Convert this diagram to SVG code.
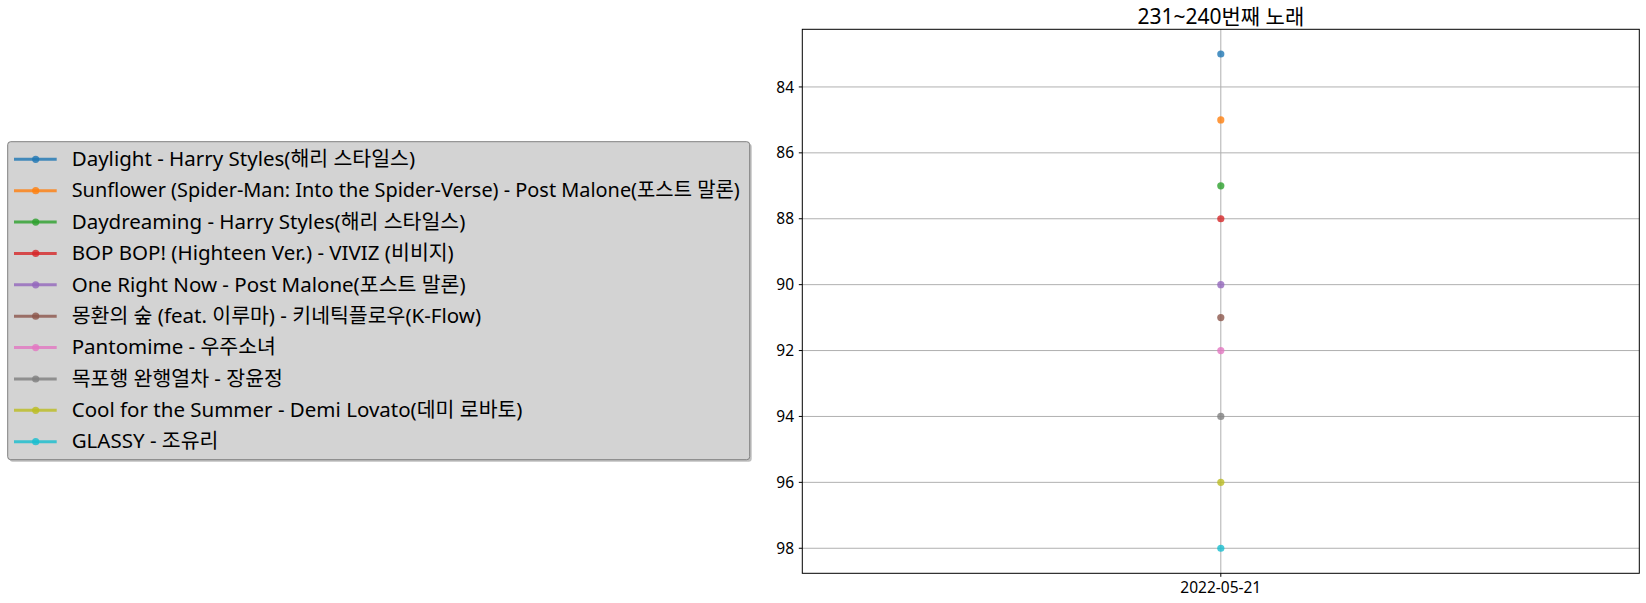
<svg xmlns="http://www.w3.org/2000/svg" width="1646" height="603" viewBox="0 0 1646 603">
<style>
text{font-family:"Noto Sans","Noto Sans CJK KR",sans-serif;fill:#000}
.tick{font-size:15.5px}
.leg{font-size:20.5px}
.grid{stroke:#b0b0b0;stroke-width:1}
.spine{stroke:#000;stroke-width:1;fill:none}
.hl{stroke-width:3;opacity:0.8}
.mk{opacity:0.8}
</style>
<rect width="1646" height="603" fill="#fff"/>
<g id="axes">
<g id="grid">
<line class="grid" x1="802.3" y1="86.95" x2="1639.3" y2="86.95"/>
<line class="grid" x1="802.3" y1="152.85" x2="1639.3" y2="152.85"/>
<line class="grid" x1="802.3" y1="218.75" x2="1639.3" y2="218.75"/>
<line class="grid" x1="802.3" y1="284.65" x2="1639.3" y2="284.65"/>
<line class="grid" x1="802.3" y1="350.55" x2="1639.3" y2="350.55"/>
<line class="grid" x1="802.3" y1="416.45" x2="1639.3" y2="416.45"/>
<line class="grid" x1="802.3" y1="482.35" x2="1639.3" y2="482.35"/>
<line class="grid" x1="802.3" y1="548.25" x2="1639.3" y2="548.25"/>
<line class="grid" x1="1220.8" y1="29.3" x2="1220.8" y2="573.3"/>
</g>
<g id="ticks" stroke="#000" stroke-width="1">
<line x1="798.8" y1="86.95" x2="802.3" y2="86.95"/>
<line x1="798.8" y1="152.85" x2="802.3" y2="152.85"/>
<line x1="798.8" y1="218.75" x2="802.3" y2="218.75"/>
<line x1="798.8" y1="284.65" x2="802.3" y2="284.65"/>
<line x1="798.8" y1="350.55" x2="802.3" y2="350.55"/>
<line x1="798.8" y1="416.45" x2="802.3" y2="416.45"/>
<line x1="798.8" y1="482.35" x2="802.3" y2="482.35"/>
<line x1="798.8" y1="548.25" x2="802.3" y2="548.25"/>
<line x1="1220.8" y1="573.3" x2="1220.8" y2="576.8"/>
</g>
<g id="yticklabels" class="tick" text-anchor="end">
<text x="794" y="92.5">84</text>
<text x="794" y="158.4">86</text>
<text x="794" y="224.3">88</text>
<text x="794" y="290.2">90</text>
<text x="794" y="356.1">92</text>
<text x="794" y="422">94</text>
<text x="794" y="487.9">96</text>
<text x="794" y="553.8">98</text>
</g>
<text class="tick" x="1220.8" y="592.5" text-anchor="middle">2022-05-21</text>
<text x="1220.8" y="24" text-anchor="middle" font-size="21">231~240번째 노래</text>
<g id="series">
<circle class="mk" cx="1220.8" cy="54" r="3.6" fill="#1f77b4"/>
<circle class="mk" cx="1220.8" cy="119.9" r="3.6" fill="#ff7f0e"/>
<circle class="mk" cx="1220.8" cy="185.8" r="3.6" fill="#2ca02c"/>
<circle class="mk" cx="1220.8" cy="218.75" r="3.6" fill="#d62728"/>
<circle class="mk" cx="1220.8" cy="284.65" r="3.6" fill="#9467bd"/>
<circle class="mk" cx="1220.8" cy="317.6" r="3.6" fill="#8c564b"/>
<circle class="mk" cx="1220.8" cy="350.55" r="3.6" fill="#e377c2"/>
<circle class="mk" cx="1220.8" cy="416.45" r="3.6" fill="#7f7f7f"/>
<circle class="mk" cx="1220.8" cy="482.35" r="3.6" fill="#bcbd22"/>
<circle class="mk" cx="1220.8" cy="548.25" r="3.6" fill="#17becf"/>
</g>
<rect class="spine" x="802.3" y="29.3" width="837" height="544"/>
</g>
<g id="legend">
<rect x="9.7" y="143.7" width="742" height="318" rx="3" fill="#808080" opacity="0.5"/>
<rect x="7.7" y="141.7" width="742" height="318" rx="3" fill="#d3d3d3" stroke="#808080" stroke-width="1"/>
<g id="leg1"><line class="hl" x1="14" y1="159.3" x2="56.7" y2="159.3" stroke="#1f77b4"/><circle class="mk" cx="35.7" cy="159.3" r="3.6" fill="#1f77b4"/><text class="leg" x="71.7" y="166">Daylight - Harry Styles(해리 스타일스)</text></g>
<g id="leg2"><line class="hl" x1="14" y1="190.7" x2="56.7" y2="190.7" stroke="#ff7f0e"/><circle class="mk" cx="35.7" cy="190.7" r="3.6" fill="#ff7f0e"/><text class="leg" x="71.7" y="197.4" textLength="668" lengthAdjust="spacingAndGlyphs">Sunflower (Spider-Man: Into the Spider-Verse) - Post Malone(포스트 말론)</text></g>
<g id="leg3"><line class="hl" x1="14" y1="222.1" x2="56.7" y2="222.1" stroke="#2ca02c"/><circle class="mk" cx="35.7" cy="222.1" r="3.6" fill="#2ca02c"/><text class="leg" x="71.7" y="228.8">Daydreaming - Harry Styles(해리 스타일스)</text></g>
<g id="leg4"><line class="hl" x1="14" y1="253.4" x2="56.7" y2="253.4" stroke="#d62728"/><circle class="mk" cx="35.7" cy="253.4" r="3.6" fill="#d62728"/><text class="leg" x="71.7" y="260.1">BOP BOP! (Highteen Ver.) - VIVIZ (비비지)</text></g>
<g id="leg5"><line class="hl" x1="14" y1="284.8" x2="56.7" y2="284.8" stroke="#9467bd"/><circle class="mk" cx="35.7" cy="284.8" r="3.6" fill="#9467bd"/><text class="leg" x="71.7" y="291.5">One Right Now - Post Malone(포스트 말론)</text></g>
<g id="leg6"><line class="hl" x1="14" y1="316.2" x2="56.7" y2="316.2" stroke="#8c564b"/><circle class="mk" cx="35.7" cy="316.2" r="3.6" fill="#8c564b"/><text class="leg" x="71.7" y="322.9">몽환의 숲 (feat. 이루마) - 키네틱플로우(K-Flow)</text></g>
<g id="leg7"><line class="hl" x1="14" y1="347.6" x2="56.7" y2="347.6" stroke="#e377c2"/><circle class="mk" cx="35.7" cy="347.6" r="3.6" fill="#e377c2"/><text class="leg" x="71.7" y="354.3">Pantomime - 우주소녀</text></g>
<g id="leg8"><line class="hl" x1="14" y1="379" x2="56.7" y2="379" stroke="#7f7f7f"/><circle class="mk" cx="35.7" cy="379" r="3.6" fill="#7f7f7f"/><text class="leg" x="71.7" y="385.7">목포행 완행열차 - 장윤정</text></g>
<g id="leg9"><line class="hl" x1="14" y1="410.3" x2="56.7" y2="410.3" stroke="#bcbd22"/><circle class="mk" cx="35.7" cy="410.3" r="3.6" fill="#bcbd22"/><text class="leg" x="71.7" y="417">Cool for the Summer - Demi Lovato(데미 로바토)</text></g>
<g id="leg10"><line class="hl" x1="14" y1="441.7" x2="56.7" y2="441.7" stroke="#17becf"/><circle class="mk" cx="35.7" cy="441.7" r="3.6" fill="#17becf"/><text class="leg" x="71.7" y="448.4">GLASSY - 조유리</text></g>
</g>
</svg>
